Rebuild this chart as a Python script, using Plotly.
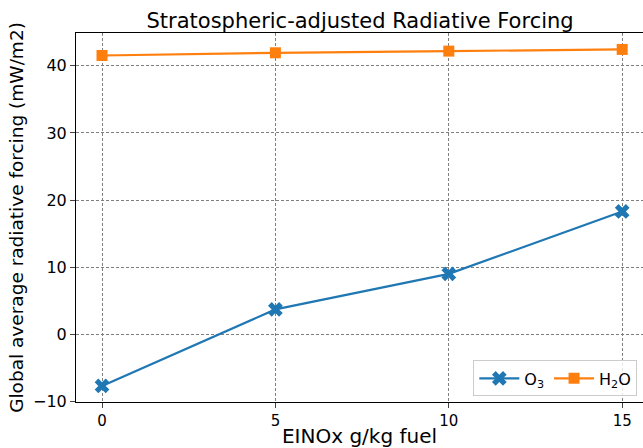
import plotly.graph_objects as go

einox = [0, 5, 10, 15]
o3 = [-7.7, 3.7, 9.0, 18.3]
h2o = [41.55, 41.95, 42.2, 42.45]
xticks = [0, 5, 10, 15]
yticks = [-10, 0, 10, 20, 30, 40]

fig = go.Figure()
fig.add_trace(go.Scatter(x=einox, y=o3, mode="lines+markers", name="O<sub>3</sub>",
                         line=dict(color="#1f77b4", width=2.2),
                         marker=dict(symbol="x", size=13, color="#1f77b4")))
fig.add_trace(go.Scatter(x=einox, y=h2o, mode="lines+markers", name="H<sub>2</sub>O",
                         line=dict(color="#ff7f0e", width=2.2),
                         marker=dict(symbol="square", size=11, color="#ff7f0e")))

grid = dict(showgrid=True, gridcolor="#7f7f7f", griddash="3px,2px", gridwidth=1, zeroline=False)
fig.update_layout(
    width=643, height=448,
    margin=dict(l=76, r=0, t=33, b=46),
    paper_bgcolor="white", plot_bgcolor="white",
    font=dict(family="DejaVu Sans", size=16, color="black"),
    title=dict(text="Stratospheric-adjusted Radiative Forcing", x=0.56, xanchor="center",
               y=0.955, yanchor="middle", font=dict(size=21)),
    xaxis=dict(range=[-0.75, 15.6], tickvals=xticks, ticks="outside", ticklen=5,
               showline=True, linecolor="black", linewidth=1, mirror=True,
               tickfont=dict(size=15),
               title=dict(text="EINOx g/kg fuel", font=dict(size=20), standoff=2), **grid),
    yaxis=dict(range=[-10.1, 44.9], tickvals=yticks, ticks="outside", ticklen=5,
               showline=True, linecolor="black", linewidth=1, mirror=False,
               tickfont=dict(size=16),
               title=dict(text="Global average radiative forcing (mW/m2)", font=dict(size=18.5), standoff=4),
               **grid),
    legend=dict(orientation="h", x=0.99, y=0.015, xanchor="right", yanchor="bottom",
                bordercolor="#cccccc", borderwidth=1, bgcolor="rgba(255,255,255,0.8)",
                font=dict(size=16), itemwidth=40, tracegroupgap=20),
    showlegend=True,
)

fig.write_html("out.html")
